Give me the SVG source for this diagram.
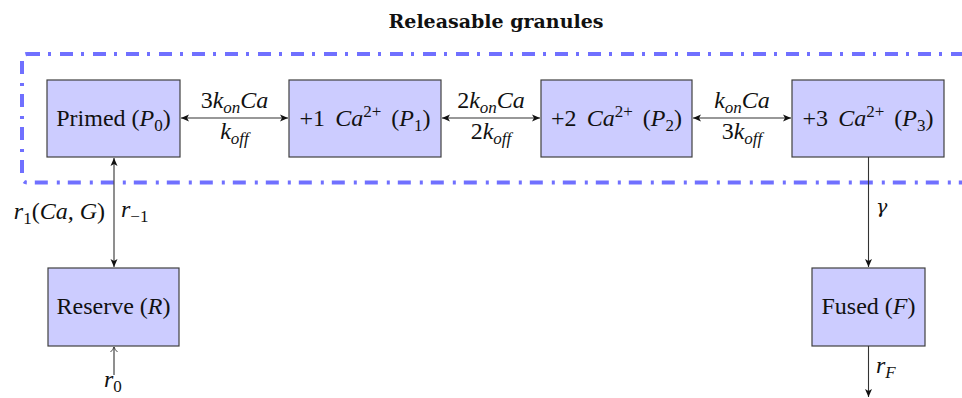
<svg xmlns="http://www.w3.org/2000/svg" width="962" height="398" viewBox="0 0 962 398">
<style>
.box{fill:#ccccff;stroke:#404040;stroke-width:1.2}
.t{font-family:"Liberation Serif","DejaVu Serif",serif;font-size:24px;fill:#111}
.w{word-spacing:4px}
.m{font-style:italic}
.s{font-size:17px}
.c{stroke:#333;stroke-width:1.1;fill:none}
.title{font-family:"DejaVu Serif","Liberation Serif",serif;font-size:19px;font-weight:bold;fill:#111}
</style>
<defs>
<marker id="ah" markerUnits="userSpaceOnUse" markerWidth="10" markerHeight="8" refX="8" refY="4" orient="auto-start-reverse">
<path d="M0,0.5 L8,4 L0,7.5 L2,4 z" fill="#111"/>
</marker>
<marker id="open" markerUnits="userSpaceOnUse" markerWidth="10" markerHeight="10" refX="6" refY="5" orient="auto">
<path d="M1,1.5 Q3,4 6,5 Q3,6 1,8.5" fill="none" stroke="#333" stroke-width="0.9"/>
</marker>
</defs>
<text class="title" x="496" y="28" text-anchor="middle">Releasable granules</text>
<rect id="group-releasable" x="22" y="54" width="960" height="128.5" rx="5" fill="none" stroke="#7070ff" stroke-width="4" stroke-dasharray="13 8 3 9"/>
<g id="P0"><rect class="box" x="47" y="80" width="133" height="77"/>
<text class="t" x="113.5" y="126" text-anchor="middle">Primed (<tspan class="m">P</tspan><tspan class="s" dy="5">0</tspan><tspan dy="-5">)</tspan></text></g>
<g id="P1"><rect class="box" x="289" y="80" width="152" height="77"/>
<text class="t w" x="365" y="126" text-anchor="middle">+1 <tspan class="m">Ca</tspan><tspan class="s" dy="-9">2+</tspan><tspan dy="9"> (</tspan><tspan class="m">P</tspan><tspan class="s" dy="5">1</tspan><tspan dy="-5">)</tspan></text></g>
<g id="P2"><rect class="box" x="541" y="80" width="151" height="77"/>
<text class="t w" x="616.5" y="126" text-anchor="middle">+2 <tspan class="m">Ca</tspan><tspan class="s" dy="-9">2+</tspan><tspan dy="9"> (</tspan><tspan class="m">P</tspan><tspan class="s" dy="5">2</tspan><tspan dy="-5">)</tspan></text></g>
<g id="P3"><rect class="box" x="792" y="80" width="152" height="77"/>
<text class="t w" x="868" y="126" text-anchor="middle">+3 <tspan class="m">Ca</tspan><tspan class="s" dy="-9">2+</tspan><tspan dy="9"> (</tspan><tspan class="m">P</tspan><tspan class="s" dy="5">3</tspan><tspan dy="-5">)</tspan></text></g>
<g id="R"><rect class="box" x="48" y="268" width="131" height="78"/>
<text class="t" x="113.5" y="314" text-anchor="middle">Reserve (<tspan class="m">R</tspan>)</text></g>
<g id="F"><rect class="box" x="812" y="268" width="113" height="78"/>
<text class="t" x="868.5" y="314" text-anchor="middle">Fused (<tspan class="m">F</tspan>)</text></g>
<g id="connectors">
<line class="c" x1="181" y1="118" x2="288" y2="118" marker-start="url(#ah)" marker-end="url(#ah)"/>
<line class="c" x1="442" y1="118" x2="540" y2="118" marker-start="url(#ah)" marker-end="url(#ah)"/>
<line class="c" x1="693" y1="118" x2="791" y2="118" marker-start="url(#ah)" marker-end="url(#ah)"/>
<line class="c" x1="114" y1="158" x2="114" y2="267" marker-start="url(#ah)" marker-end="url(#ah)"/>
<line class="c" x1="868.5" y1="157" x2="868.5" y2="267" marker-end="url(#ah)"/>
<line class="c" x1="868.5" y1="346" x2="868.5" y2="397" marker-end="url(#ah)"/>
<line class="c" x1="114" y1="375" x2="114" y2="347" marker-end="url(#open)"/>
</g>
<g id="labels" class="t">
<text x="234.5" y="108" text-anchor="middle">3<tspan class="m">k</tspan><tspan class="m s" dy="5">on</tspan><tspan class="m" dy="-5">Ca</tspan></text>
<text x="234.5" y="139" text-anchor="middle"><tspan class="m">k</tspan><tspan class="m s" dy="5">off</tspan></text>
<text x="491" y="108" text-anchor="middle">2<tspan class="m">k</tspan><tspan class="m s" dy="5">on</tspan><tspan class="m" dy="-5">Ca</tspan></text>
<text x="491" y="139" text-anchor="middle">2<tspan class="m">k</tspan><tspan class="m s" dy="5">off</tspan></text>
<text x="742" y="108" text-anchor="middle"><tspan class="m">k</tspan><tspan class="m s" dy="5">on</tspan><tspan class="m" dy="-5">Ca</tspan></text>
<text x="742" y="139" text-anchor="middle">3<tspan class="m">k</tspan><tspan class="m s" dy="5">off</tspan></text>
<text x="105" y="219" text-anchor="end"><tspan class="m">r</tspan><tspan class="s" dy="5">1</tspan><tspan dy="-5">(</tspan><tspan class="m">Ca, G</tspan>)</text>
<text x="121" y="217"><tspan class="m">r</tspan><tspan class="s" dy="5">−1</tspan></text>
<text x="876" y="213" class="m" font-family="DejaVu Serif, serif" font-size="19">γ</text>
<text x="876" y="373"><tspan class="m">r</tspan><tspan class="m s" dy="5">F</tspan></text>
<text x="104" y="387"><tspan class="m">r</tspan><tspan class="s" dy="5">0</tspan></text>
</g>
</svg>
